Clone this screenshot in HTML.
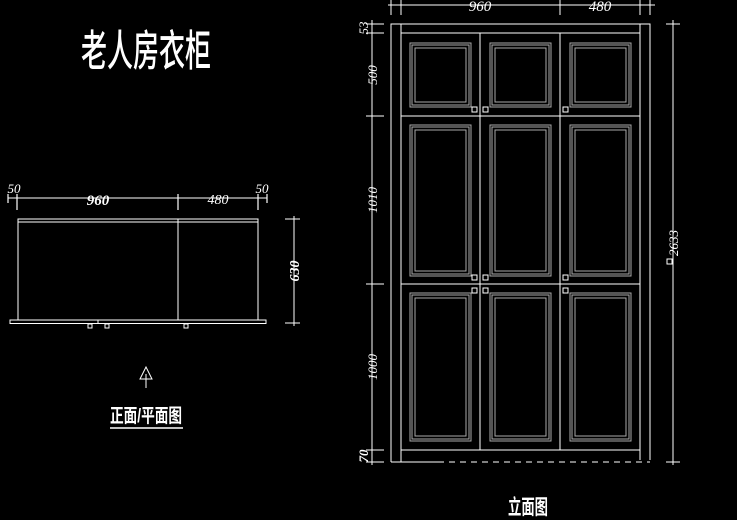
<!DOCTYPE html>
<html><head><meta charset="utf-8"><style>
html,body{margin:0;padding:0;background:#000;}
svg{display:block}
text{fill:#fff;font-family:"Liberation Serif","Noto Serif CJK SC",serif;font-style:italic}
.cn{font-family:"Liberation Sans","Noto Sans CJK SC",sans-serif;font-style:normal;font-weight:bold}
</style></head><body>
<svg width="737" height="520" viewBox="0 0 737 520" xmlns="http://www.w3.org/2000/svg">
<rect width="737" height="520" fill="#000"/>
<text class="cn" font-size="36" text-anchor="middle" textLength="130" lengthAdjust="spacingAndGlyphs" transform="translate(146,66) scale(1,1.2)" style="font-weight:500">老人房衣柜</text>

<!-- plan view -->
<g stroke="#fff" fill="none" stroke-width="1">
<line x1="8" y1="198" x2="267" y2="198"/>
<g stroke-width="1.2">
<line x1="8" y1="194" x2="8" y2="203"/><line x1="17" y1="194" x2="17" y2="210"/>
<line x1="178" y1="194" x2="178" y2="210"/><line x1="258" y1="194" x2="258" y2="210"/><line x1="267" y1="194" x2="267" y2="203"/>
</g>
<rect x="18" y="219" width="240" height="3"/>
<line x1="18" y1="222" x2="18" y2="320"/><line x1="258" y1="222" x2="258" y2="320"/>
<line x1="178" y1="219" x2="178" y2="320"/>
<rect x="10" y="320" width="256" height="3.5"/>
<line x1="98" y1="320" x2="98" y2="324"/>
<rect x="88" y="324" width="4" height="4"/><rect x="105" y="324" width="4" height="4"/><rect x="184" y="324" width="4" height="4"/>
<line x1="294" y1="216" x2="294" y2="326"/>
<line x1="285" y1="219" x2="300" y2="219"/><line x1="285" y1="323" x2="300" y2="323"/>
</g>
<text x="14" y="193" font-size="13" text-anchor="middle">50</text>
<text x="98" y="205" font-size="15" text-anchor="middle" font-weight="bold">960</text>
<text x="218" y="204" font-size="14" text-anchor="middle">480</text>
<text x="262" y="193" font-size="13" text-anchor="middle">50</text>
<text font-size="14" font-weight="bold" transform="translate(299,271) rotate(-90)" text-anchor="middle">630</text>
<g stroke="#fff" fill="none"><path d="M146 388 V374 M140 379 L146 367 L152 379 Z"/></g>
<text class="cn" x="146" y="422" font-size="19" text-anchor="middle" textLength="72" lengthAdjust="spacingAndGlyphs">正面/平面图</text>
<line x1="110" y1="428" x2="183" y2="428" stroke="#fff" stroke-width="1.5"/>

<!-- elevation -->
<g stroke="#fff" fill="none" stroke-width="1">
<line x1="388" y1="5" x2="655" y2="5"/>
<line x1="391" y1="0" x2="391" y2="15"/><line x1="401" y1="0" x2="401" y2="15"/>
<line x1="560" y1="0" x2="560" y2="15"/><line x1="640" y1="0" x2="640" y2="15"/><line x1="650" y1="0" x2="650" y2="15"/>
<line x1="372" y1="20" x2="372" y2="465"/>
<line x1="366" y1="24" x2="384" y2="24"/><line x1="366" y1="33" x2="384" y2="33"/>
<line x1="366" y1="116" x2="384" y2="116"/><line x1="366" y1="284" x2="384" y2="284"/>
<line x1="366" y1="450" x2="384" y2="450"/><line x1="366" y1="462" x2="384" y2="462"/>
<line x1="673" y1="20" x2="673" y2="465"/>
<line x1="666" y1="24" x2="680" y2="24"/><line x1="666" y1="462" x2="680" y2="462"/>
<path d="M391 462 V24 H650 V460"/>
<line x1="391" y1="462" x2="438" y2="462"/>
<line x1="438" y1="462" x2="650" y2="462" stroke-dasharray="6 5"/>
<line x1="401" y1="24" x2="401" y2="462"/><line x1="640" y1="24" x2="640" y2="460"/>
<line x1="401" y1="33" x2="640" y2="33"/><line x1="401" y1="450" x2="640" y2="450"/>
<line x1="401" y1="116" x2="640" y2="116"/><line x1="401" y1="284" x2="640" y2="284"/>
<line x1="480" y1="33" x2="480" y2="450"/><line x1="560" y1="33" x2="560" y2="450"/>
</g>
<g stroke="#aaa" fill="none" stroke-width="1">
<rect x="410" y="43" width="61" height="64"/><rect x="412" y="45" width="57" height="60"/><rect x="415" y="48" width="51" height="54"/>
<rect x="490" y="43" width="61" height="64"/><rect x="492" y="45" width="57" height="60"/><rect x="495" y="48" width="51" height="54"/>
<rect x="570" y="43" width="61" height="64"/><rect x="572" y="45" width="57" height="60"/><rect x="575" y="48" width="51" height="54"/>
<rect x="410" y="125" width="61" height="151"/><rect x="412" y="127" width="57" height="147"/><rect x="415" y="130" width="51" height="141"/>
<rect x="490" y="125" width="61" height="151"/><rect x="492" y="127" width="57" height="147"/><rect x="495" y="130" width="51" height="141"/>
<rect x="570" y="125" width="61" height="151"/><rect x="572" y="127" width="57" height="147"/><rect x="575" y="130" width="51" height="141"/>
<rect x="410" y="293" width="61" height="148"/><rect x="412" y="295" width="57" height="144"/><rect x="415" y="298" width="51" height="138"/>
<rect x="490" y="293" width="61" height="148"/><rect x="492" y="295" width="57" height="144"/><rect x="495" y="298" width="51" height="138"/>
<rect x="570" y="293" width="61" height="148"/><rect x="572" y="295" width="57" height="144"/><rect x="575" y="298" width="51" height="138"/>
</g>
<g stroke="#fff" fill="none">
<rect x="472" y="107" width="5" height="5"/><rect x="483" y="107" width="5" height="5"/><rect x="563" y="107" width="5" height="5"/>
<rect x="472" y="275" width="5" height="5"/><rect x="483" y="275" width="5" height="5"/><rect x="563" y="275" width="5" height="5"/>
<rect x="472" y="288" width="5" height="5"/><rect x="483" y="288" width="5" height="5"/><rect x="563" y="288" width="5" height="5"/>
<rect x="667" y="259" width="5" height="5"/>
</g>
<text x="480" y="11" font-size="15" text-anchor="middle">960</text>
<text x="600" y="11" font-size="15" text-anchor="middle">480</text>
<text font-size="13" transform="translate(368,28) rotate(-90)" text-anchor="middle">53</text>
<text font-size="13" transform="translate(377,75) rotate(-90)" text-anchor="middle">500</text>
<text font-size="13" transform="translate(377,200) rotate(-90)" text-anchor="middle">1010</text>
<text font-size="13" transform="translate(377,367) rotate(-90)" text-anchor="middle">1000</text>
<text font-size="13" font-weight="bold" transform="translate(368,456) rotate(-90)" text-anchor="middle">70</text>
<text font-size="13" transform="translate(678,243) rotate(-90)" text-anchor="middle">2633</text>
<text class="cn" font-size="18" text-anchor="middle" textLength="40" lengthAdjust="spacingAndGlyphs" transform="translate(528,514) scale(1,1.15)">立面图</text>
</svg>
</body></html>
